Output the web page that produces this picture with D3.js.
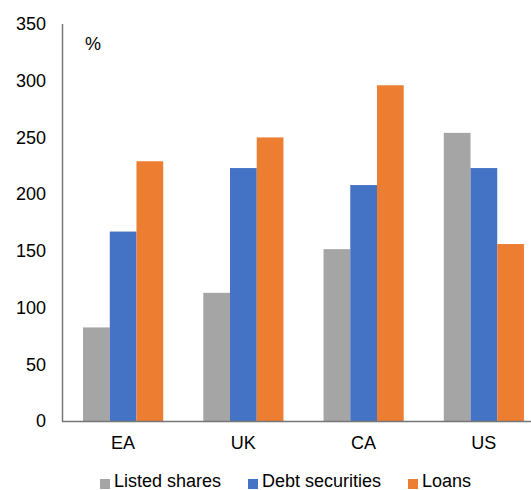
<!DOCTYPE html>
<html>
<head>
<meta charset="utf-8">
<script src="https://cdn.jsdelivr.net/npm/d3@7"></script>
<style>
  body { margin: 0; background: #fff; }
  text { font-family: "Liberation Sans", Arial, sans-serif; fill: #000; }
</style>
</head>
<body>
<div id="chart"></div>
<script>
const categories = ["EA", "UK", "CA", "US"];
const seriesNames = ["Listed shares", "Debt securities", "Loans"];
const listedShares = [82.5, 113, 151.5, 254];
const debtSecurities = [167, 223, 208, 223];
const loans = [229, 250, 296, 156];
const yTicks = [0, 50, 100, 150, 200, 250, 300, 350];
const colors = ["#a5a5a5", "#4472c4", "#ed7d31"];

const width = 531, height = 490;
const svg = d3.select("#chart").append("svg")
  .attr("width", width)
  .attr("height", height);

const x = d3.scaleBand().domain(categories).range([63, 544]).paddingInner(1 / 3).paddingOuter(1 / 6);
const xs = d3.scaleBand().domain(seriesNames).range([0, x.bandwidth()]);
const y = d3.scaleLinear().domain([0, 350]).range([421, 24]);

const allSeries = [listedShares, debtSecurities, loans];

// bars
seriesNames.forEach(function (name, s) {
  svg.selectAll(".bar" + s)
    .data(categories)
    .enter().append("rect")
    .attr("x", d => x(d) + xs(name))
    .attr("y", (d, i) => y(allSeries[s][i]))
    .attr("width", xs.bandwidth())
    .attr("height", (d, i) => y(0) - y(allSeries[s][i]))
    .attr("fill", colors[s]);
});

// y axis labels
svg.selectAll(".ytick")
  .data(yTicks)
  .enter().append("text")
  .attr("x", 46)
  .attr("y", d => y(d))
  .attr("dy", "0.35em")
  .attr("text-anchor", "end")
  .style("font-size", "18px")
  .text(d => d);

// axis lines
svg.append("line")
  .attr("x1", 62.5).attr("x2", 62.5)
  .attr("y1", y(350)).attr("y2", y(0))
  .attr("stroke", "#767676").attr("stroke-width", 1.5);
svg.append("line")
  .attr("x1", 62).attr("x2", width)
  .attr("y1", y(0) + 0.5).attr("y2", y(0) + 0.5)
  .attr("stroke", "#767676").attr("stroke-width", 1.5);

// category labels
svg.selectAll(".xlab")
  .data(categories)
  .enter().append("text")
  .attr("x", d => x(d) + x.bandwidth() / 2)
  .attr("y", 449)
  .attr("text-anchor", "middle")
  .style("font-size", "18px")
  .text(d => d);

// unit
svg.append("text")
  .attr("x", 85).attr("y", 50)
  .style("font-size", "18px")
  .text("%");

// legend
const legendX = [100, 248, 408];
seriesNames.forEach(function (name, s) {
  svg.append("rect")
    .attr("x", legendX[s]).attr("y", 479)
    .attr("width", 10).attr("height", 10)
    .attr("fill", colors[s]);
  svg.append("text")
    .attr("x", legendX[s] + 14).attr("y", 487)
    .style("font-size", "18px")
    .text(name);
});
</script>
</body>
</html>
